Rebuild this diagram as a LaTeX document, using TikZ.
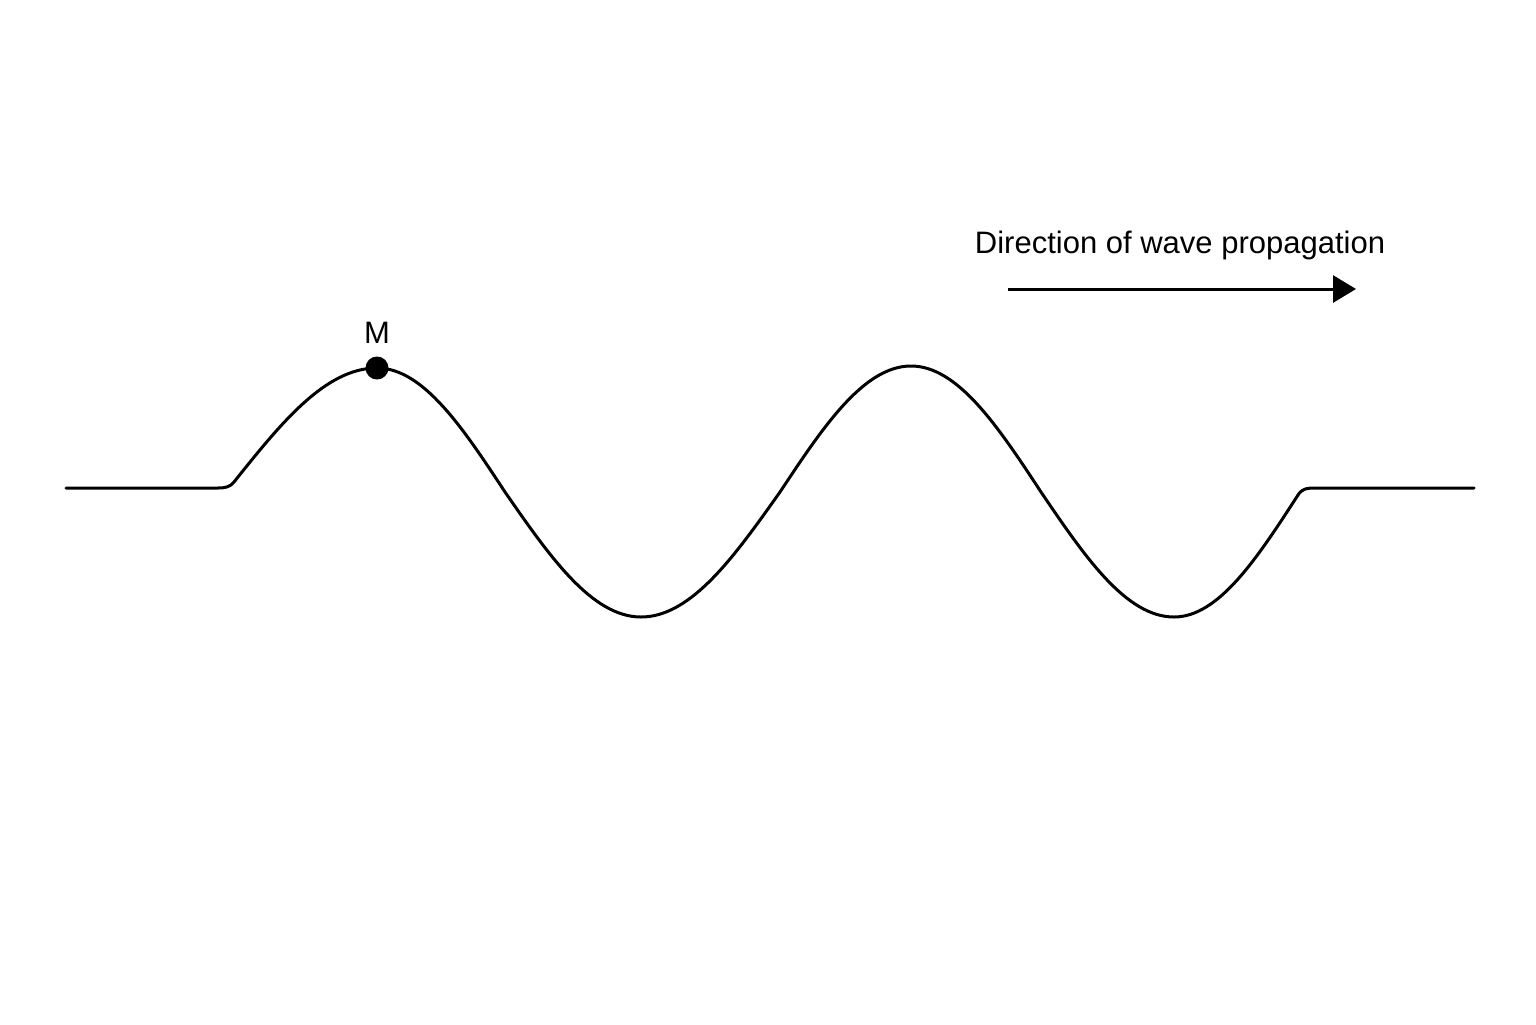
\documentclass[tikz,border=0pt]{standalone}
\usepackage{fontspec}
\setmainfont{Liberation Sans}
\usetikzlibrary{arrows.meta}
\begin{document}
\begin{tikzpicture}[x=0.5pt,y=-0.5pt,
  wave/.style={line width=1.5pt, line join=round, line cap=round},
  lbl/.style={font=\fontsize{15.5}{18}\selectfont, inner sep=0pt, anchor=base},
  dotm/.style={circle, fill=black, inner sep=0pt, minimum size=11.5pt},
  arr/.style={line width=1.5pt, -{Triangle[length=11.5pt,width=13.5pt]}}]
\useasboundingbox (0,0) rectangle (1536,1024);
\fill[white] (0,0) rectangle (1536,1024);
% wave key points
\coordinate (L) at (66,488);
\coordinate (L1) at (218,488);
\coordinate (Z0) at (234,482);
\coordinate (P1) at (377,368);
\coordinate (Z1) at (505,492);
\coordinate (T1) at (641,617);
\coordinate (Z2) at (780,492);
\coordinate (P2) at (911,366);
\coordinate (Z3) at (1041,492);
\coordinate (T2) at (1174,617);
\coordinate (Z4) at (1298,495);
\coordinate (R1) at (1316,488);
\coordinate (R) at (1474,488);
\draw[wave] (L) -- (L1) .. controls (225,488) and (230,487) .. (Z0)
  sin (P1) cos (Z1) sin (T1) cos (Z2) sin (P2) cos (Z3) sin (T2) cos (Z4)
  .. controls (1302,488.8) and (1306,488) .. (R1) -- (R);
% point M
\node[dotm] (M) at (P1) {};
\node[lbl] (Mlabel) at (377,343) {M};
% direction arrow
\node[lbl] (dir) at (1180,253) {Direction of wave propagation};
\coordinate (A1) at (1008,289);
\coordinate (A2) at (1356,289);
\draw[arr] (A1) -- (A2);
\end{tikzpicture}
\end{document}
